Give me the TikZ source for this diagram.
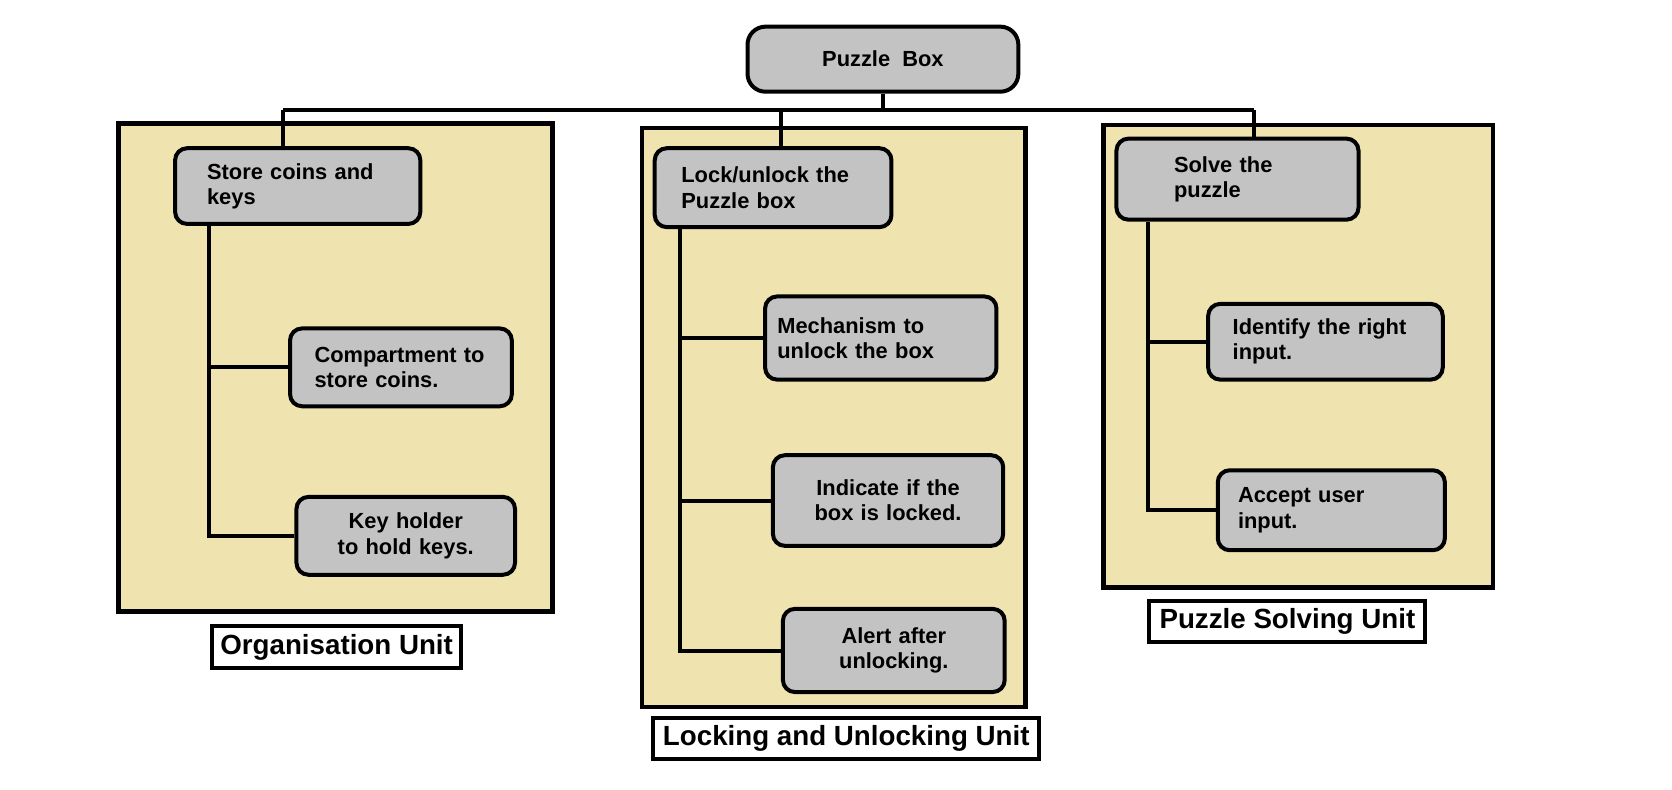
\documentclass[tikz,border=0pt]{standalone}
\usepackage{fontspec}
\setmainfont{Liberation Sans}
\usepackage{tikz}
\definecolor{panelfill}{RGB}{239,228,176}
\definecolor{taskfill}{RGB}{195,195,195}
\tikzset{every picture/.append style={x=1pt, y=-1pt, scale=1.0663}}
\tikzset{every node/.append style={transform shape}}
\tikzset{
    unit/.style={draw, line width=4.5pt, fill=panelfill, inner sep=0pt},
    task/.style={draw, line width=4pt, fill=taskfill, rounded corners=12pt,
        inner ysep=0pt, font=\bfseries\fontsize{20.5}{23.5}\selectfont},
    unitname/.style={draw, line width=4pt, fill=white, inner sep=0pt,
        font=\bfseries\fontsize{26}{30}\selectfont},
    link/.style={line width=4pt}
}

\begin{document}
\begin{tikzpicture}
  \useasboundingbox (0, 0) rectangle (1568, 740);

  \node (org) [unit, minimum width=407pt, minimum height=458pt] at (314.4, 344.6) {};
  \node (lck) [unit, minimum width=360pt, minimum height=543pt] at (781.9, 391.5) {};
  \node (slv) [unit, minimum width=365pt, minimum height=434pt] at (1217.5, 334) {};

  \node (orgname) [unitname, minimum width=234pt, minimum height=39pt] at (315.7, 607) {Organisation Unit};
  \node (lckname) [unitname, minimum width=362pt, minimum height=38pt] at (793.6, 692.8) {Locking and Unlocking Unit};
  \node (slvname) [unitname, minimum width=259pt, minimum height=38pt] at (1207.3, 583) {Puzzle Solving Unit};

  \node (top) [task, rounded corners=18pt, minimum width=254pt, minimum height=61pt] at (828, 55.5) {Puzzle\ \ Box};

  \node (store) [task, align=left, inner xsep=30pt, text width=170pt, minimum height=71pt] at (279.2, 174.5) {Store coins and\\keys};
  \node (comp) [task, align=left, inner xsep=23pt, text width=162pt, minimum height=73pt] at (376, 344.5) {Compartment to\\store coins.};
  \node (keys) [task, align=center, inner xsep=15pt, text width=175pt, minimum height=73pt] at (380.5, 502.5) {Key holder\\to hold keys.};

  \node (lock) [task, align=left, inner xsep=25pt, text width=172pt, minimum height=74pt] at (725, 176) {Lock/unlock the\\Puzzle box};
  \node (mech) [task, align=left, inner xsep=11.5pt, text width=194pt, minimum height=78pt] at (826, 317) {Mechanism to\\unlock the box};
  \node (ind) [task, align=center, inner xsep=15pt, text width=186pt, minimum height=85pt] at (832.8, 469.4) {Indicate if the\\box is locked.};
  \node (alert) [task, align=center, inner xsep=15pt, text width=178pt, minimum height=78pt] at (838.2, 610) {Alert after\\unlocking.};

  \node (solve) [task, align=left, inner xsep=54pt, text width=119pt, minimum height=76pt] at (1160.5, 168) {Solve the\\puzzle};
  \node (ident) [task, align=left, inner xsep=23pt, text width=174pt, minimum height=71pt] at (1243, 320.5) {Identify the right\\input.};
  \node (accept) [task, align=left, inner xsep=19pt, text width=175pt, minimum height=75pt] at (1248.5, 478.5) {Accept user\\input.};

  \coordinate (busL) at (265, 103);
  \coordinate (busM) at (732.5, 103);
  \coordinate (busR) at (1176, 103);
  \coordinate (orgX) at (196, 0);
  \coordinate (lckX) at (638, 0);
  \coordinate (slvX) at (1076.6, 0);

  \draw[link] (busL) -- (busR);
  \draw[link] (top.south) -- (top.south |- busL);
  \draw[link] (busL) -- (busL |- store.north);
  \draw[link] (busM) -- (busM |- lock.north);
  \draw[link] (busR) -- (busR |- solve.north);

  \draw[link] (orgX |- store.south) |- (keys.west);
  \draw[link] (orgX |- comp.west) -- (comp.west);

  \draw[link] (lckX |- lock.south) |- (alert.west);
  \draw[link] (lckX |- mech.west) -- (mech.west);
  \draw[link] (lckX |- ind.west) -- (ind.west);

  \draw[link] (slvX |- solve.south) |- (accept.west);
  \draw[link] (slvX |- ident.west) -- (ident.west);
\end{tikzpicture}
\end{document}
